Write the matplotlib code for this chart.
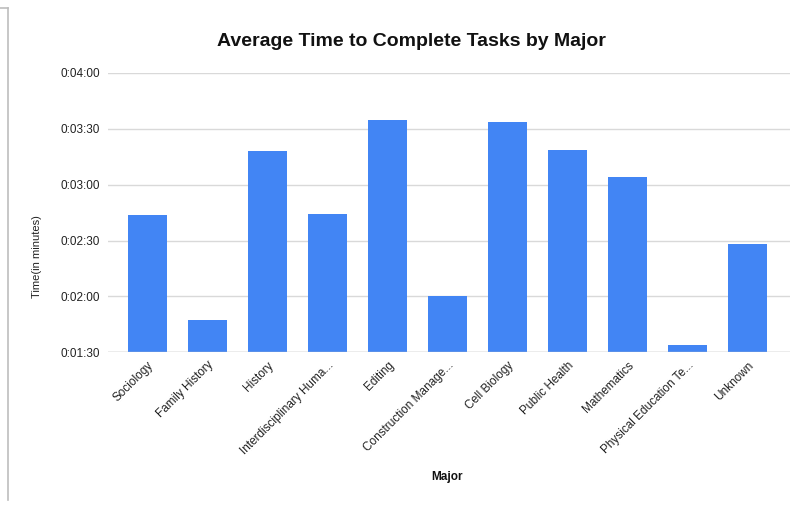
import matplotlib
matplotlib.use("Agg")
import matplotlib.pyplot as plt
from matplotlib.ticker import FuncFormatter, MultipleLocator
from matplotlib.lines import Line2D

plt.rcParams['font.family'] = ['Liberation Sans', 'DejaVu Sans']

# average time per major, in seconds
majors = ["Sociology", "Family History", "History", "Interdisciplinary Huma...",
          "Editing", "Construction Manage...", "Cell Biology", "Public Health",
          "Mathematics", "Physical Education Te...", "Unknown"]
seconds = [164, 107.5, 198, 164.5, 215, 120, 213.5, 198.5, 184, 94, 148]


def hms(v, pos=None):
    v = int(round(v))
    return "%d:%02d:%02d" % (v // 3600, (v % 3600) // 60, v % 60)


fig = plt.figure(figsize=(7.92, 5.08), dpi=100)
ax = fig.add_axes([0.136, 0.3065, 0.8615, 0.5498])

x = range(len(majors))
ax.bar(x, seconds, width=0.65, color="#4285f4", zorder=3)

ax.set_ylim(90, 240)
ax.set_xlim(-0.66, 10.7)
ax.yaxis.set_major_locator(MultipleLocator(30))
ax.yaxis.set_major_formatter(FuncFormatter(hms))
ax.grid(axis="y", color="#d9d9d9", linewidth=1, zorder=0)
ax.axhline(90, color="#c0c0c0", linewidth=1, zorder=4)

for s in ax.spines.values():
    s.set_visible(False)
ax.tick_params(axis="both", length=0, labelsize=8.5, colors="#222222")
ax.tick_params(axis="y", pad=5.5)

ax.set_xticks(list(x))
ax.set_xticklabels(majors, rotation=45, ha="right", rotation_mode="anchor")
ax.tick_params(axis="x", pad=5)

ax.set_ylabel("Time(in minutes)", fontsize=8, color="#222222", va="center")
ax.yaxis.set_label_coords(-0.103, 0.341)
ax.set_xlabel("Major", fontsize=8.5, fontweight="bold", color="#111111", va="center")
ax.xaxis.set_label_coords(0.497, -0.4465)

fig.text(0.519, 0.918, "Average Time to Complete Tasks by Major", ha="center",
         va="center", fontsize=14, fontweight="bold", color="#111111")

# left frame edge of the screenshot
fig.add_artist(Line2D([0.0101, 0.0101], [0.015, 0.984], transform=fig.transFigure,
                      color="#bdbdbd", linewidth=1.2))
fig.add_artist(Line2D([0.0, 0.0101], [0.984, 0.984], transform=fig.transFigure,
                      color="#bdbdbd", linewidth=1.2))

fig.savefig("out.png", dpi=100)
